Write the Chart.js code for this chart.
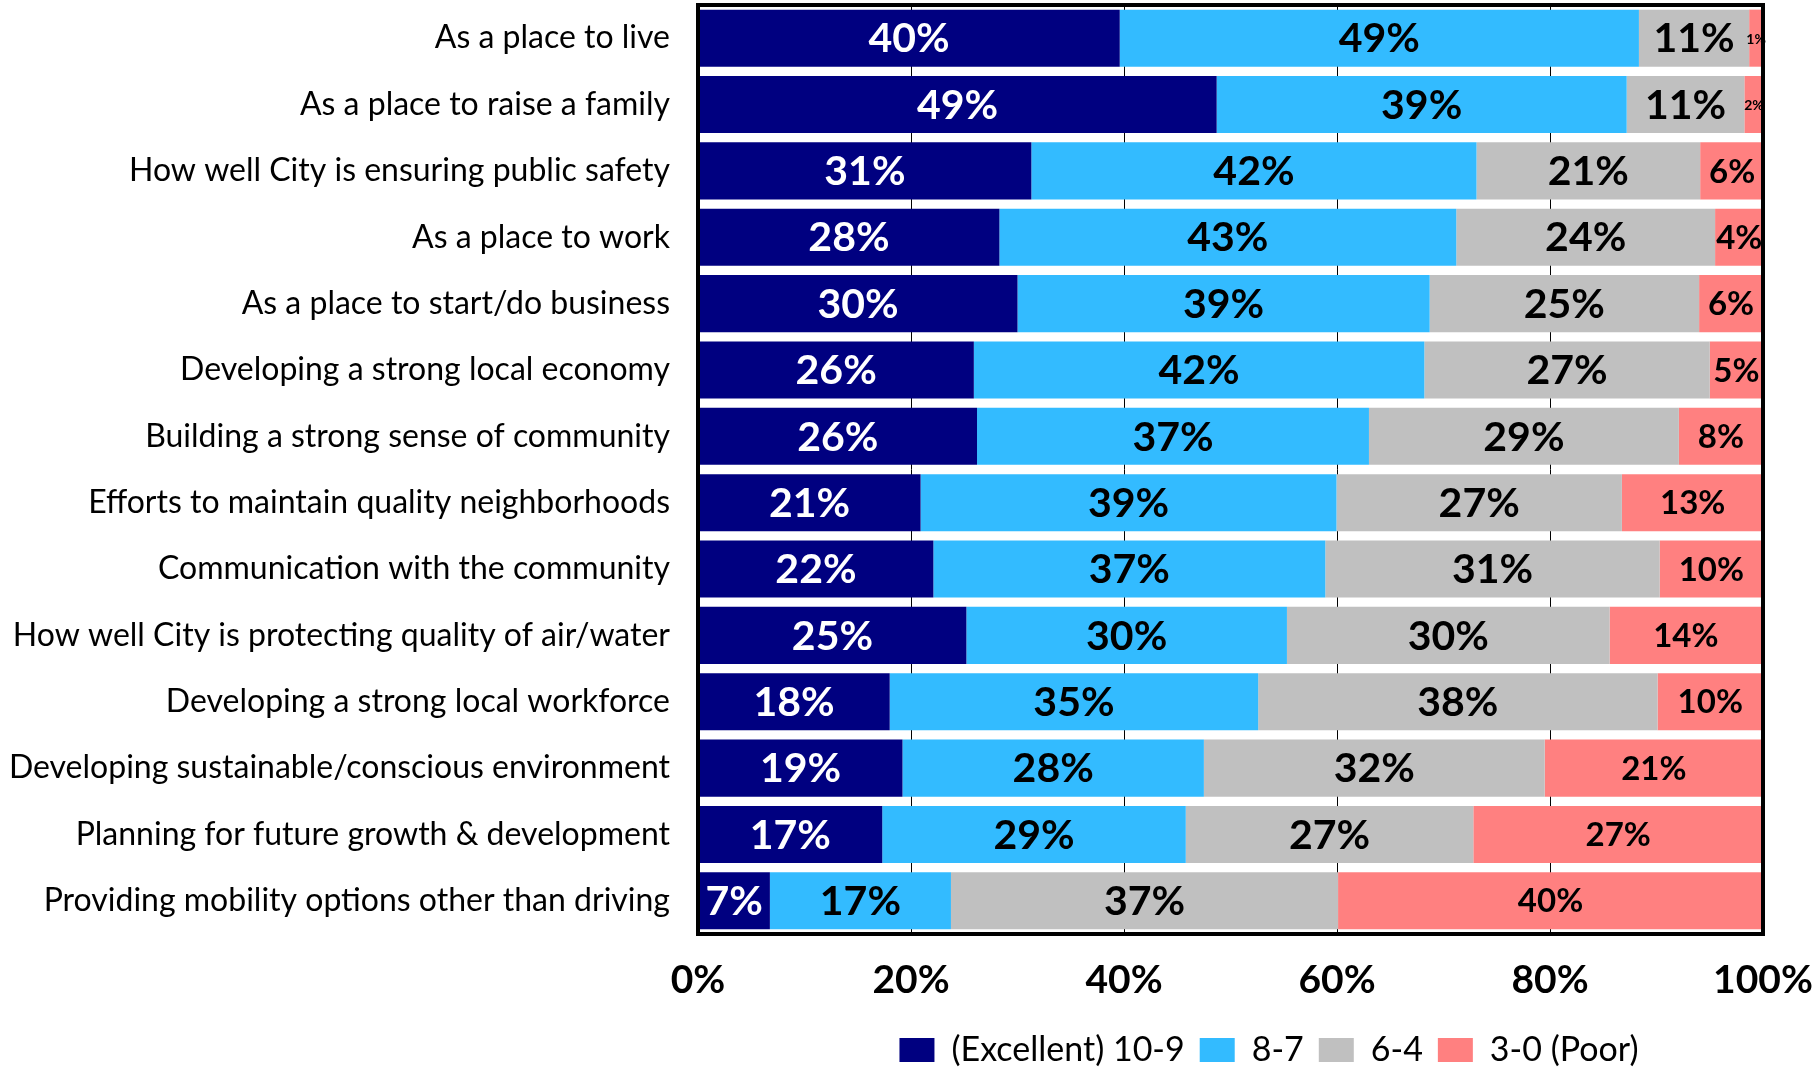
<!DOCTYPE html>
<html>
<head>
<meta charset="utf-8">
<script src="https://cdn.jsdelivr.net/npm/chart.js@4.4.1/dist/chart.umd.min.js"></script>
<style>
  html, body { margin: 0; padding: 0; background: #ffffff; }
  #wrap { width: 1812px; height: 1067px; position: relative; }
</style>
</head>
<body>
<div id="wrap"><canvas id="c" width="1812" height="1067"></canvas></div>
<script>
// ---- Data ----
const categories = [
  'As a place to live',
  'As a place to raise a family',
  'How well City is ensuring public safety',
  'As a place to work',
  'As a place to start/do business',
  'Developing a strong local economy',
  'Building a strong sense of community',
  'Efforts to maintain quality neighborhoods',
  'Communication with the community',
  'How well City is protecting quality of air/water',
  'Developing a strong local workforce',
  'Developing sustainable/conscious environment',
  'Planning for future growth & development',
  'Providing mobility options other than driving'
];
const seriesNames = ['(Excellent) 10-9', '8-7', '6-4', '3-0 (Poor)'];

// segment lengths (percent of respondents) as measured from the bars
const excellent = [39.6, 48.7, 31.3, 28.3, 30.0, 25.9, 26.2, 20.9, 22.1, 25.2, 18.0, 19.2, 17.3, 6.75];
const good      = [48.75, 38.5, 41.8, 42.9, 38.7, 42.3, 36.8, 39.05, 36.8, 30.1, 34.6, 28.3, 28.5, 17.0];
const fair      = [10.35, 11.05, 21.0, 24.3, 25.3, 26.8, 29.1, 26.8, 31.4, 30.3, 37.5, 32.0, 27.0, 36.35];
const poor      = [1.3, 1.8, 6.0, 4.55, 6.0, 5.0, 7.9, 13.3, 9.7, 14.3, 9.9, 20.5, 27.2, 39.9];

// rounded values printed on the bars
const excellentLabels = [40, 49, 31, 28, 30, 26, 26, 21, 22, 25, 18, 19, 17, 7];
const goodLabels      = [49, 39, 42, 43, 39, 42, 37, 39, 37, 30, 35, 28, 29, 17];
const fairLabels      = [11, 11, 21, 24, 25, 27, 29, 27, 31, 30, 38, 32, 27, 37];
const poorLabels      = [1, 2, 6, 4, 6, 5, 8, 13, 10, 14, 10, 21, 27, 40];

const xTicks = [0, 20, 40, 60, 80, 100];

// ---- Styles ----
const colors = ['#000080', '#33BBFF', '#C0C0C0', '#FF8080'];
const labelColors = ['#FFFFFF', '#000000', '#000000', '#000000'];
const FONT = 'Lato';

const values = [excellent, good, fair, poor];
const valueLabels = [excellentLabels, goodLabels, fairLabels, poorLabels];

const datasets = seriesNames.map((name, i) => ({
  label: name,
  data: values[i],
  valueLabels: valueLabels[i],
  labelColor: labelColors[i],
  backgroundColor: colors[i],
  borderWidth: 0,
  categoryPercentage: 1.0,
  barPercentage: 0.86
}));

const framePlugin = {
  id: 'frame',
  afterDatasetsDraw(chart) {
    const { ctx, chartArea: a } = chart;
    ctx.save();
    ctx.strokeStyle = '#000000';
    ctx.lineWidth = 4;
    ctx.strokeRect(a.left, a.top, a.right - a.left, a.bottom - a.top);
    ctx.restore();
  }
};

const segLabelPlugin = {
  id: 'segLabels',
  afterDatasetsDraw(chart) {
    const ctx = chart.ctx;
    chart.data.datasets.forEach((ds, di) => {
      const meta = chart.getDatasetMeta(di);
      meta.data.forEach((bar, i) => {
        const v = ds.valueLabels[i];
        let size = 41;
        if (di === 3) size = v <= 2 ? 14 : 33;
        ctx.save();
        ctx.font = `bold ${size}px ${FONT}`;
        ctx.fillStyle = ds.labelColor;
        ctx.textAlign = 'center';
        ctx.textBaseline = 'middle';
        ctx.fillText(v + '%', (bar.x + bar.base) / 2, bar.y + 1);
        ctx.restore();
      });
    });
  }
};

const legendShift = {
  id: 'legendShift',
  afterLayout(chart) {
    const lg = chart.legend;
    if (!lg) return;
    const cx = (lg.left + lg.right) / 2;
    const dx = 1269 - cx;
    lg.left += dx;
    lg.right += dx;
    lg.top += 14;
    lg.bottom += 14;
  }
};

function build() {
  Chart.defaults.font.family = FONT;
  Chart.defaults.color = '#000000';
  new Chart(document.getElementById('c'), {
    type: 'bar',
    data: { labels: categories, datasets },
    options: {
      indexAxis: 'y',
      responsive: false,
      animation: false,
      events: [],
      layout: { padding: { top: 5, right: 49, left: 0, bottom: 4 } },
      scales: {
        x: {
          stacked: true,
          min: 0,
          max: 100,
          afterBuildTicks(scale) { scale.ticks = xTicks.map(v => ({ value: v })); },
          afterFit(scale) {
            const lh = scale.chart.legend ? scale.chart.legend.height : 0;
            scale.height = 1067 - 4 - lh - 934;
            scale.paddingLeft = 0;
            scale.paddingRight = 0;
          },
          ticks: {
            callback: v => v + '%',
            font: { family: FONT, size: 39, weight: 'bold' },
            color: '#000000',
            padding: 23,
            maxRotation: 0
          },
          grid: { color: '#000000', lineWidth: 1, drawTicks: false },
          border: { display: false }
        },
        y: {
          stacked: true,
          afterFit(scale) {
            scale.width = 698;
            scale.paddingTop = 0;
            scale.paddingBottom = 0;
          },
          ticks: {
            font: { family: FONT, size: 32 },
            color: '#000000',
            padding: 28,
            autoSkip: false
          },
          grid: { display: false, drawTicks: false },
          border: { display: false }
        }
      },
      plugins: {
        legend: {
          position: 'bottom',
          labels: {
            boxWidth: 35,
            boxHeight: 24,
            padding: 15,
            color: '#000000',
            font: { family: FONT, size: 34 }
          }
        },
        tooltip: { enabled: false }
      }
    },
    plugins: [framePlugin, segLabelPlugin, legendShift]
  });
}

const fontLoads = [
  document.fonts.load(`bold 41px ${FONT}`),
  document.fonts.load(`32px ${FONT}`)
];
Promise.all(fontLoads).then(build, build);
</script>
</body>
</html>
